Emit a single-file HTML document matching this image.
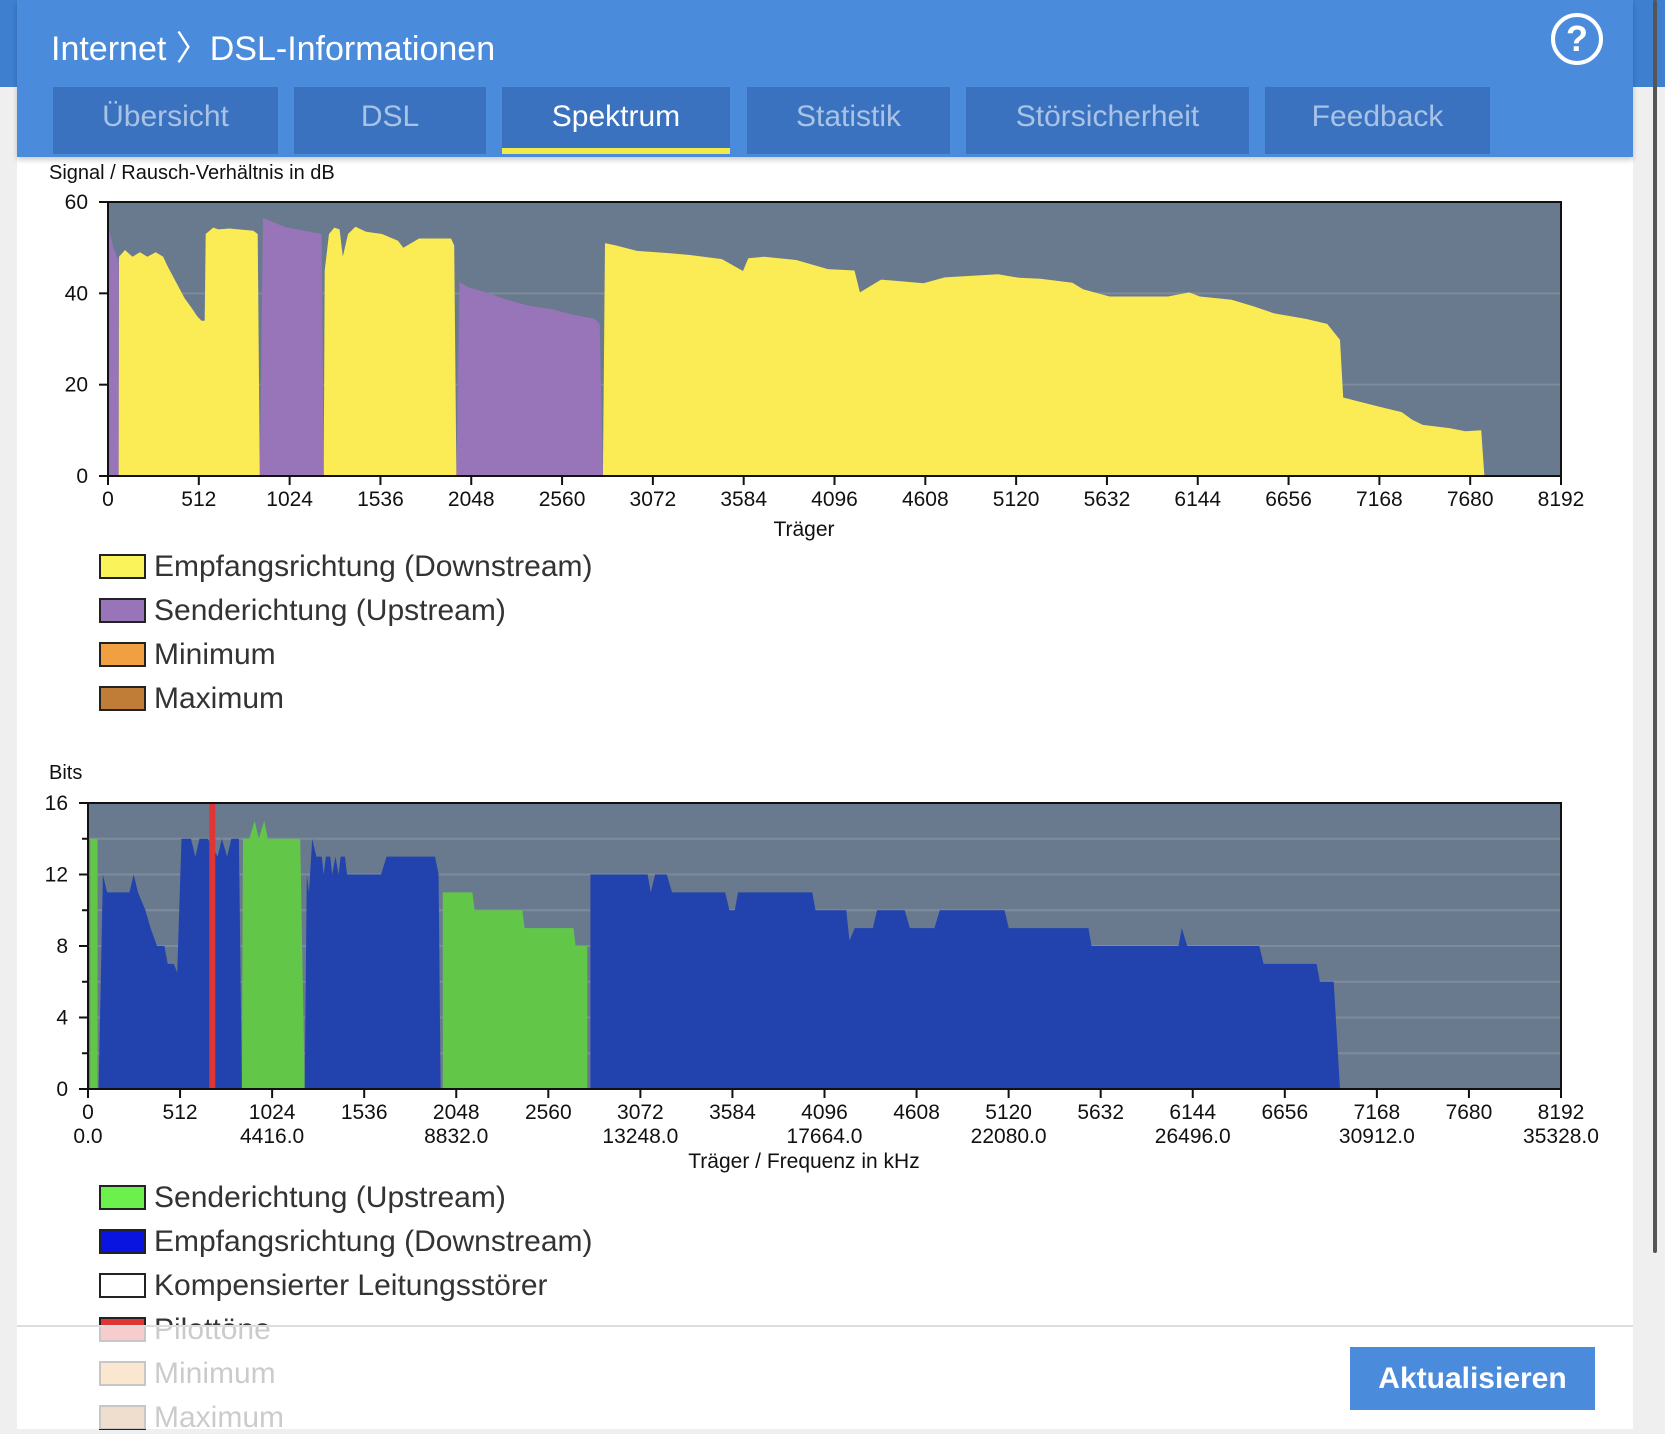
<!DOCTYPE html>
<html><head><meta charset="utf-8">
<style>
*{margin:0;padding:0;box-sizing:border-box}
body{width:1665px;height:1429px;overflow:hidden;background:#efefef;font-family:"Liberation Sans",sans-serif;position:relative}
.abs{position:absolute}
.tab{position:absolute;top:87px;height:67px;background:#3a72c0;color:#a8c3e6;font-size:30px;text-align:center;line-height:60px}
.leg{position:absolute;left:99px;height:30px;font-size:30px;color:#333;line-height:30px}
.sw{display:inline-block;width:47px;height:25px;border:2px solid #222;vertical-align:-3px;margin-right:8px}
</style></head><body>
<div class="abs" style="left:0;top:0;width:1665px;height:87px;background:#3f7fd0"></div>
<div class="abs" style="left:17px;top:0;width:1616px;height:1429px;background:#fff"></div>
<div class="abs" style="left:17px;top:0;width:1616px;height:157px;background:#4a8cdb;box-shadow:0 3px 5px rgba(0,0,0,.2)"></div>
<div class="abs" style="left:1653px;top:0;width:4px;height:1253px;background:#555;border-radius:2px"></div>
<div class="abs" style="left:51px;top:21px;font-size:34px;color:#fff">Internet 〉DSL-Informationen</div>
<div class="abs" style="left:1551px;top:13px;width:52px;height:52px;border:4px solid #fff;border-radius:50%;color:#fff;font-size:36px;font-weight:bold;text-align:center;line-height:44px">?</div>
<div class="tab" style="left:53px;width:225px">Übersicht</div>
<div class="tab" style="left:294px;width:192px">DSL</div>
<div class="tab" style="left:502px;width:228px;color:#fff;border-bottom:6px solid #f2ea4a">Spektrum</div>
<div class="tab" style="left:747px;width:203px">Statistik</div>
<div class="tab" style="left:966px;width:283px">Störsicherheit</div>
<div class="tab" style="left:1265px;width:225px">Feedback</div>

<div class="abs" style="left:49px;top:162px;font-size:20px;color:#111">Signal / Rausch-Verhältnis in dB</div>
<div class="abs" style="left:49px;top:762px;font-size:20px;color:#111">Bits</div>

<svg class="abs" style="left:0;top:0" width="1665" height="1429" id="charts"></svg>

<div class="leg" style="top:552px"><span class="sw" style="background:#fbf35a"></span>Empfangsrichtung (Downstream)</div>
<div class="leg" style="top:596px"><span class="sw" style="background:#9775b8"></span>Senderichtung (Upstream)</div>
<div class="leg" style="top:640px"><span class="sw" style="background:#f0a040"></span>Minimum</div>
<div class="leg" style="top:684px"><span class="sw" style="background:#c07d38"></span>Maximum</div>

<div class="leg" style="top:1183px"><span class="sw" style="background:#6cf04c"></span>Senderichtung (Upstream)</div>
<div class="leg" style="top:1227px"><span class="sw" style="background:#0a14e0"></span>Empfangsrichtung (Downstream)</div>
<div class="leg" style="top:1271px"><span class="sw" style="background:#fff"></span>Kompensierter Leitungsstörer</div>
<div class="leg" style="top:1315px"><span class="sw" style="background:#e03535"></span>Pilottöne</div>
<div class="leg" style="top:1359px"><span class="sw" style="background:#f0a040"></span>Minimum</div>
<div class="leg" style="top:1403px"><span class="sw" style="background:#c07d38"></span>Maximum</div>

<div class="abs" style="left:17px;top:1325px;width:1616px;height:104px;background:rgba(255,255,255,.75);border-top:2px solid #ddd"></div>
<div class="abs" style="left:1350px;top:1347px;width:245px;height:63px;background:#4a8cdb;color:#fff;font-size:30px;font-weight:bold;text-align:center;line-height:63px">Aktualisieren</div>

<script>
const snrDown=[[60,0],[62,48],[96,49.5],[138,48],[180,49],[222,48],[269,49],[311,48],[335,46],[383,42.5],[431,39],[473,36.7],[503,35],[527,34],[545,34],[551,53],[593,54.4],[623,54],[683,54.2],[820,53.7],[844,53],[856,0],
[1216,0],[1222,45],[1246,53],[1276,54.4],[1306,54],[1324,48],[1353,53],[1395,54.6],[1455,53.5],[1545,53],[1635,51.5],[1665,50],[1754,52],[1934,52],[1952,50.5],[1964,0],
[2790,0],[2802,51],[2862,50.5],[2982,49.3],[3161,48.8],[3281,48.4],[3461,47.5],[3580,44.9],[3610,47.7],[3700,48],[3880,47.3],[4059,45.3],[4209,45],[4239,40.2],[4359,43],[4598,42.2],[4718,43.5],[5018,44.2],[5137,43.4],[5257,43.2],[5437,42.3],[5497,40.9],[5647,39.3],[5976,39.3],[6096,40.2],[6156,39.3],[6335,38.6],[6455,37.2],[6575,35.6],[6754,34.4],[6874,33.3],[6946,29.8],[6964,17.2],[7054,16.3],[7174,15.1],[7294,14],[7353,12.3],[7413,11.2],[7563,10.5],[7653,9.8],[7742,10],[7760,0]];
const snrUp=[[6,0],[6,54],[30,50],[60,47],[60,0],[856,0],[874,56.5],[1000,54.5],[1204,53],[1216,0],
[1964,0],[1982,42.5],[2024,41.4],[2144,40],[2263,38.4],[2383,37.2],[2503,36.5],[2623,35.3],[2743,34.4],[2772,33.3],[2790,0]];
const bitsUp=[[12,0],[12,14],[53,14],[53,0],[856,0],[862,14],[897,14],[927,15],[950,14],[980,15],[1000,14],[1180,14],[1205,0],
[1973,0],[1973,11],[2138,11],[2150,10],[2416,10],[2428,9],[2700,9],[2712,8],[2776,8],[2776,0]];
const bitsDown=[[59,0],[83,12],[106,11],[230,11],[254,12],[278,11],[319,10],[348,9],[384,8],[425,8],[443,7],[478,7],[496,6.5],[520,14],[573,14],[597,13],[620,14],[667,14],[721,13],[744,14],[774,13],[797,14],[839,14],[856,0],
[1205,0],[1217,12],[1229,11],[1247,14],[1270,13],[1300,13],[1311,12],[1323,13],[1347,13],[1358,12],[1376,13],[1394,12],[1405,13],[1429,13],[1441,12],[1630,12],[1660,13],[1930,13],[1950,12],[1961,0],
[2794,0],[2794,12],[3112,12],[3130,11],[3154,12],[3219,12],[3248,11],[3544,11],[3567,10],[3597,10],[3615,11],[4028,11],[4046,10],[4217,10],[4235,8.3],[4264,9],[4365,9],[4388,10],[4542,10],[4571,9],[4707,9],[4737,10],[5097,10],[5121,9],[5564,9],[5581,8],[6065,8],[6083,9],[6113,8],[6514,8],[6538,7],[6833,7],[6851,6],[6928,6],[6963,0]];
const pilotCarriers=[691];
const xTicks=[0,512,1024,1536,2048,2560,3072,3584,4096,4608,5120,5632,6144,6656,7168,7680,8192];
const freqTicks=["0.0","4416.0","8832.0","13248.0","17664.0","22080.0","26496.0","30912.0","35328.0"];
const snrYTicks=[0,20,40,60];
const bitsYTicks=[0,4,8,12,16];

const NS="http://www.w3.org/2000/svg",svg=document.getElementById('charts');
function mk(t,a,txt){const e=document.createElementNS(NS,t);for(const k in a)e.setAttribute(k,a[k]);if(txt!==undefined)e.textContent=txt;svg.appendChild(e);return e;}
function chart(c){
 const sx=v=>c.x0+(v/8192)*(c.x1-c.x0), sy=v=>c.y1-(v/c.ymax)*(c.y1-c.y0);
 const bg=mk('rect',{x:c.x0,y:c.y0,width:c.x1-c.x0,height:c.y1-c.y0,fill:'#6a7a8e'});
 
 c.grid.forEach(g=>{const l=mk('line',{x1:c.x0,x2:c.x1,y1:sy(g),y2:sy(g),stroke:'#7e8b9b','stroke-width':2});
  });
 c.series.forEach(s=>{const d='M'+s.pts.map(p=>sx(p[0]).toFixed(1)+','+sy(p[1]).toFixed(1)).join('L')+'Z';
  const p=mk('path',{d:d,fill:s.color});});
 (c.pilots||[]).forEach(pc=>{const r=mk('rect',{x:sx(pc)-3,y:c.y0,width:6,height:c.y1-c.y0,fill:'#e03535'});
  });
 const fr=mk('rect',{x:c.x0,y:c.y0,width:c.x1-c.x0,height:c.y1-c.y0,fill:'none',stroke:'#111','stroke-width':2});
 
 xTicks.forEach((t,i)=>{const x=sx(t);mk('line',{x1:x,x2:x,y1:c.y1,y2:c.y1+9,stroke:'#111','stroke-width':2});
  const tx=mk('text',{x:x,y:c.y1+30,'text-anchor':'middle','font-size':21,fill:'#111'},t);
  
  if(c.freq&&i%2==0){const f=mk('text',{x:x,y:c.y1+54,'text-anchor':'middle','font-size':21,fill:'#111'},freqTicks[i/2]);
   }});
 c.yt.forEach(t=>{const y=sy(t);mk('line',{x1:c.x0-9,x2:c.x0,y1:y,y2:y,stroke:'#111','stroke-width':2});
  const tx=mk('text',{x:c.x0-20,y:y+7,'text-anchor':'end','font-size':21,fill:'#111'},t);
  });
 (c.minor||[]).forEach(t=>{const y=sy(t);mk('line',{x1:c.x0-6,x2:c.x0,y1:y,y2:y,stroke:'#111','stroke-width':2});});
 const tt=mk('text',{x:804,y:c.titleY,'text-anchor':'middle','font-size':21,fill:'#111'},c.title);
 
}
chart({name:'snr',x0:108,x1:1561,y0:202,y1:476,ymax:60,grid:[20,40],yt:snrYTicks,title:'Träger',titleY:536,
 series:[{pts:snrDown,color:'#fbeb55',name:'snr-downstream-area'},{pts:snrUp,color:'#9775b8',name:'snr-upstream-area'}]});
chart({name:'bits',x0:88,x1:1561,y0:803,y1:1089,ymax:16,grid:[2,4,6,8,10,12,14],yt:bitsYTicks,minor:[2,6,10,14],freq:true,
 title:'Träger / Frequenz in kHz',titleY:1168,pilots:pilotCarriers,
 series:[{pts:bitsUp,color:'#62c748',name:'bits-upstream-area'},{pts:bitsDown,color:'#2243ad',name:'bits-downstream-area'}]});
</script>
</body></html>
